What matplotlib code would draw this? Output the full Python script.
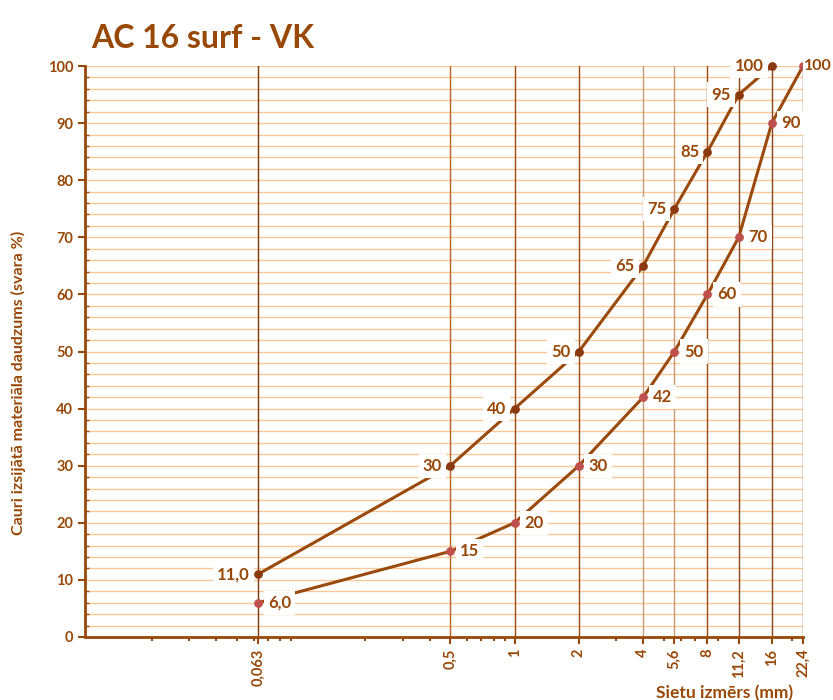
import matplotlib.pyplot as plt
from matplotlib.ticker import FixedLocator, MultipleLocator, NullFormatter

plt.rcParams['font.family'] = ['Lato', 'DejaVu Sans']

sieves = [0.063, 0.5, 1, 2, 4, 5.6, 8, 11.2, 16, 22.4]
sieve_labels = ["0,063", "0,5", "1", "2", "4", "5,6", "8", "11,2", "16", "22,4"]

upper_x = [0.063, 0.5, 1, 2, 4, 5.6, 8, 11.2, 16]
upper_y = [11, 30, 40, 50, 65, 75, 85, 95, 100]
upper_labels = ["11,0", "30", "40", "50", "65", "75", "85", "95", "100"]

lower_x = [0.063, 0.5, 1, 2, 4, 5.6, 8, 11.2, 16, 22.4]
lower_y = [6, 15, 20, 30, 42, 50, 60, 70, 90, 100]
lower_labels = ["6,0", "15", "20", "30", "42", "50", "60", "70", "90", "100"]

brown = "#984807"
line_c = "#9A4A0C"
grid_c = "#FAC796"

fig = plt.figure(figsize=(8.33, 7), dpi=100)
ax = fig.add_axes([0.102, 0.09, 0.862, 0.8157])

ax.set_xscale("log")
ax.set_xlim(0.00975, 22.4)
ax.set_ylim(0, 100)

# horizontal grid every 2 %
for y in range(2, 101, 2):
    ax.axhline(y, color=grid_c, lw=1.0, zorder=1)

# vertical sieve lines
vcols = ["#7A3A08", "#B5651D", "#9A4A0C", "#9A4A0C", "#C89A74", "#C89A74",
         "#9A4A0C", "#8B4513", "#8B4513", "#8B4513"]
for s, c in zip(sieves, vcols):
    ax.axvline(s, color=c, lw=1.0, zorder=1)

ax.plot(upper_x, upper_y, color=line_c, lw=2.2, zorder=3)
ax.plot(lower_x, lower_y, color=line_c, lw=2.2, zorder=3)
ax.scatter(upper_x, upper_y, s=28, color="#8B3A0F", zorder=4, clip_on=False)
ax.scatter(lower_x, lower_y, s=28, color="#C0504D", zorder=4, clip_on=False)

box = dict(boxstyle="square,pad=0.25", fc="white", ec="none")
for x, y, t in zip(upper_x, upper_y, upper_labels):
    ax.annotate(t, (x, y), xytext=(-6, 0), textcoords="offset points",
                ha="right", va="center", fontsize=12, fontweight="bold",
                color=brown, bbox=box, zorder=5, annotation_clip=False)
for i, (x, y, t) in enumerate(zip(lower_x, lower_y, lower_labels)):
    last = i == len(lower_x) - 1
    ax.annotate(t, (x, y), xytext=(1 if last else 7, 0), textcoords="offset points",
                ha="left", va="center", fontsize=11.5 if last else 12, fontweight="bold",
                color=brown, bbox=dict(boxstyle="square,pad=0.1", fc="white", ec="none") if last else box,
                zorder=5, annotation_clip=False)

ax.xaxis.set_major_locator(FixedLocator(sieves))
ax.set_xticklabels(sieve_labels, rotation=90, fontsize=10.5, fontweight="bold", color=brown)
ax.xaxis.set_minor_formatter(NullFormatter())
ax.yaxis.set_major_locator(MultipleLocator(10))
ax.yaxis.set_minor_locator(MultipleLocator(2))
for lab in ax.get_yticklabels():
    lab.set_fontsize(10.5)
    lab.set_fontweight("bold")
    lab.set_color(brown)

ax.tick_params(axis="both", which="major", color=brown, length=5, width=1.5)
ax.tick_params(axis="x", which="minor", color=brown, length=3, width=1.5)
ax.tick_params(axis="y", which="minor", direction="in", color=brown, length=3, width=1)

for side in ["top", "right"]:
    ax.spines[side].set_visible(False)
for side in ["left", "bottom"]:
    ax.spines[side].set_color(brown)
    ax.spines[side].set_linewidth(2)

fig.text(0.022, 0.453, "Cauri izsijātā materiāla daudzums (svara %)", rotation=90,
         ha="center", va="center", fontsize=11.5, fontweight="bold", color=brown)
fig.text(0.87, 0.01, "Sietu izmērs (mm)", ha="center", va="center", fontsize=12.5,
         fontweight="bold", color=brown)
fig.text(0.11, 0.945, "AC 16 surf - VK", ha="left", va="center", fontsize=23,
         fontweight="bold", color=brown)

fig.savefig("out.png", dpi=100)
